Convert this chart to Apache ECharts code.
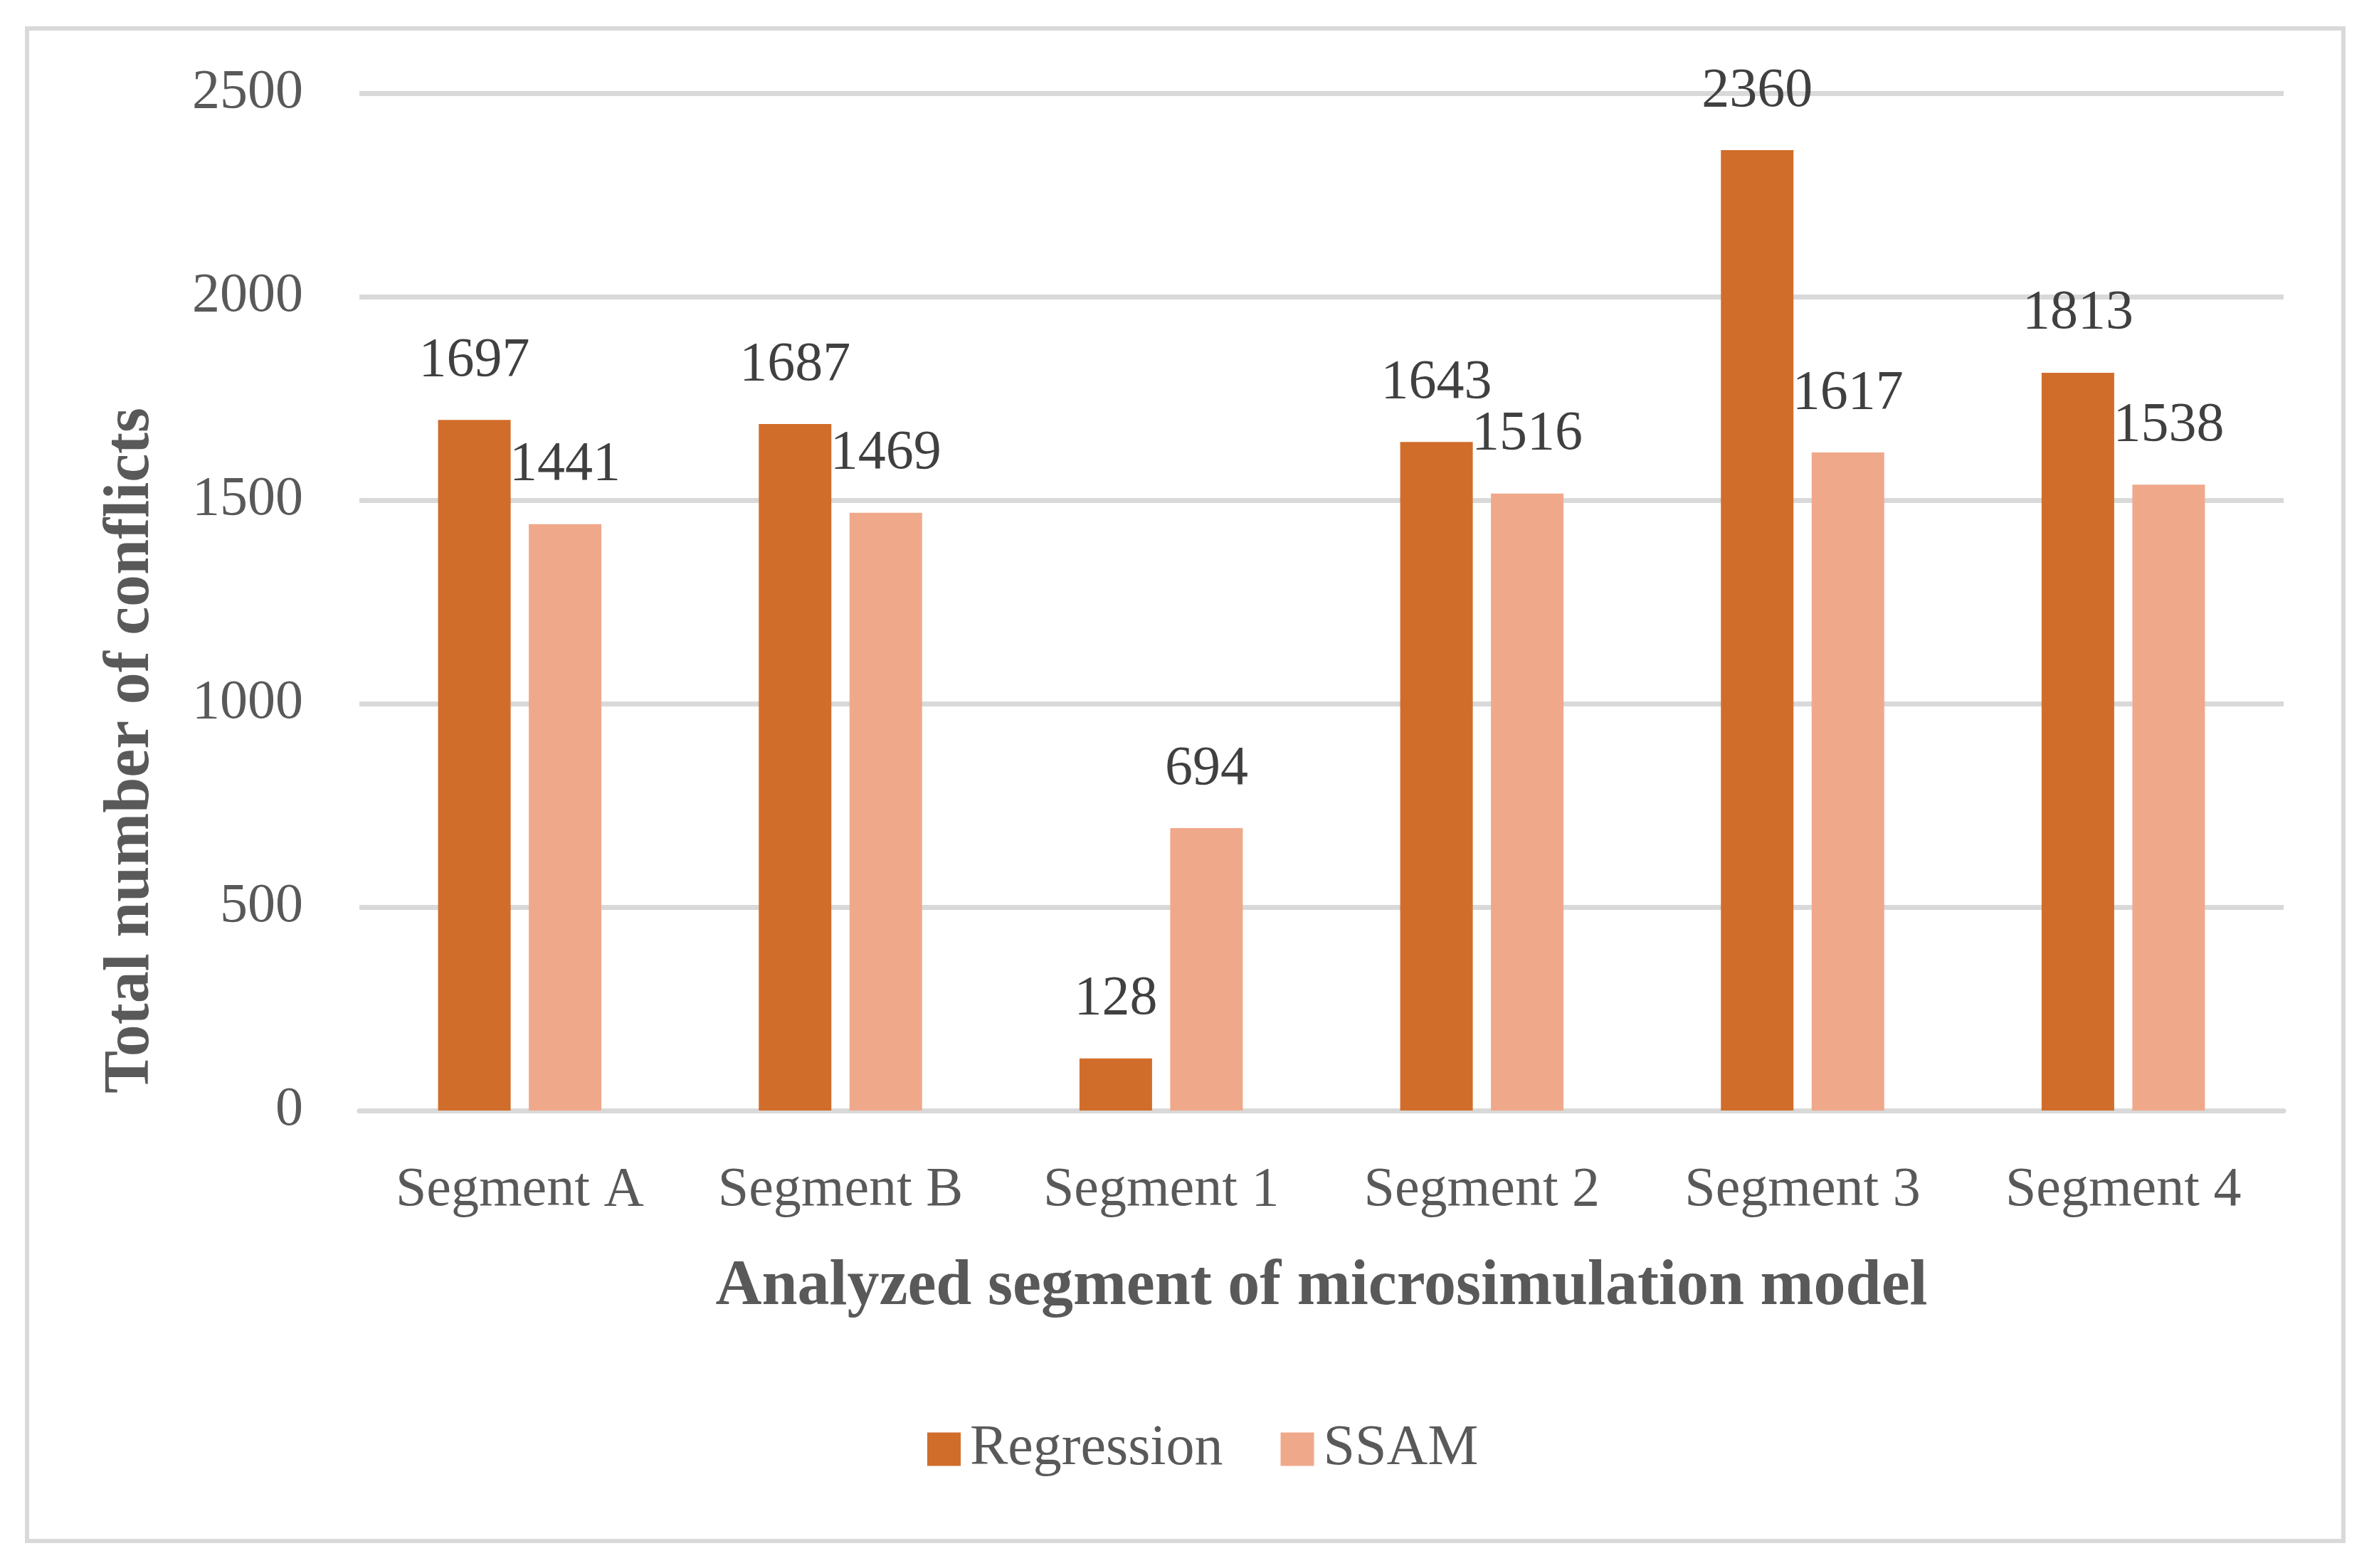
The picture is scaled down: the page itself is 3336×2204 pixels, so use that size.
<!DOCTYPE html>
<html>
<head>
<meta charset="utf-8">
<script src="https://cdn.jsdelivr.net/npm/echarts@6/dist/echarts.min.js"></script>
<style>
  html, body { margin: 0; padding: 0; background: #fff; }
  #chart { width: 3336px; height: 2204px; }
</style>
</head>
<body>
<div id="chart"></div>
<script>
var segments = ['Segment A', 'Segment B', 'Segment 1', 'Segment 2', 'Segment 3', 'Segment 4']
var regression = [1697, 1687, 128, 1643, 2360, 1813]
var ssam = [1441, 1469, 694, 1516, 1617, 1538]
var yTicks = [0, 500, 1000, 1500, 2000, 2500]

var font = '"Liberation Serif", "Times New Roman", serif'
var grey = '#595959'

var labelStyle = {
  show: true,
  position: 'top',
  distance: 44,
  fontFamily: font,
  fontSize: 78,
  color: '#404040'
}

var myChart = echarts.init(document.getElementById('chart'))

myChart.setOption({
  animation: false,
  textStyle: { fontFamily: font },
  graphic: [
    {
      type: 'rect',
      shape: { x: 38, y: 40, width: 3255, height: 2126 },
      style: { fill: 'none', stroke: '#d9d9d9', lineWidth: 6 }
    },
    {
      type: 'text',
      x: 185,
      y: 1055,
      rotation: Math.PI / 2,
      style: {
        text: 'Total number of conflicts',
        fontFamily: font,
        fontWeight: 'bold',
        fontSize: 90,
        fill: grey,
        align: 'center',
        verticalAlign: 'middle'
      }
    }
  ],
  legend: {
    left: 1298,
    top: 1992,
    itemWidth: 47,
    itemHeight: 47,
    itemGap: 81,
    icon: 'rect',
    textStyle: { fontFamily: font, fontSize: 80, color: grey, padding: [0, 0, 0, 8] },
    data: ['Regression', 'SSAM']
  },
  grid: { left: 505, right: 127, top: 131, bottom: 643 },
  xAxis: {
    type: 'category',
    data: segments,
    name: 'Analyzed segment of microsimulation model',
    nameLocation: 'middle',
    nameGap: 204,
    nameTextStyle: { fontFamily: font, fontWeight: 'bold', fontSize: 90, color: grey },
    axisLine: { lineStyle: { color: '#d9d9d9', width: 7 } },
    axisTick: { show: false },
    axisLabel: { interval: 0, margin: 74, fontFamily: font, fontSize: 78, color: grey }
  },
  yAxis: {
    type: 'value',
    min: yTicks[0],
    max: yTicks[yTicks.length - 1],
    interval: 500,
    axisLine: { show: false },
    axisTick: { show: false },
    axisLabel: {
      margin: 79,
      fontFamily: font,
      fontSize: 78,
      color: grey,
      formatter: function (v) { return String(v) }
    },
    splitLine: { lineStyle: { color: '#d9d9d9', width: 7 } }
  },
  series: [
    {
      name: 'Regression',
      type: 'bar',
      data: regression,
      barWidth: 102,
      barGap: '25%',
      itemStyle: { color: '#D16D2B' },
      label: labelStyle
    },
    {
      name: 'SSAM',
      type: 'bar',
      data: ssam,
      barWidth: 102,
      barGap: '25%',
      itemStyle: { color: '#F0A88B' },
      label: labelStyle
    }
  ]
})
</script>
</body>
</html>
